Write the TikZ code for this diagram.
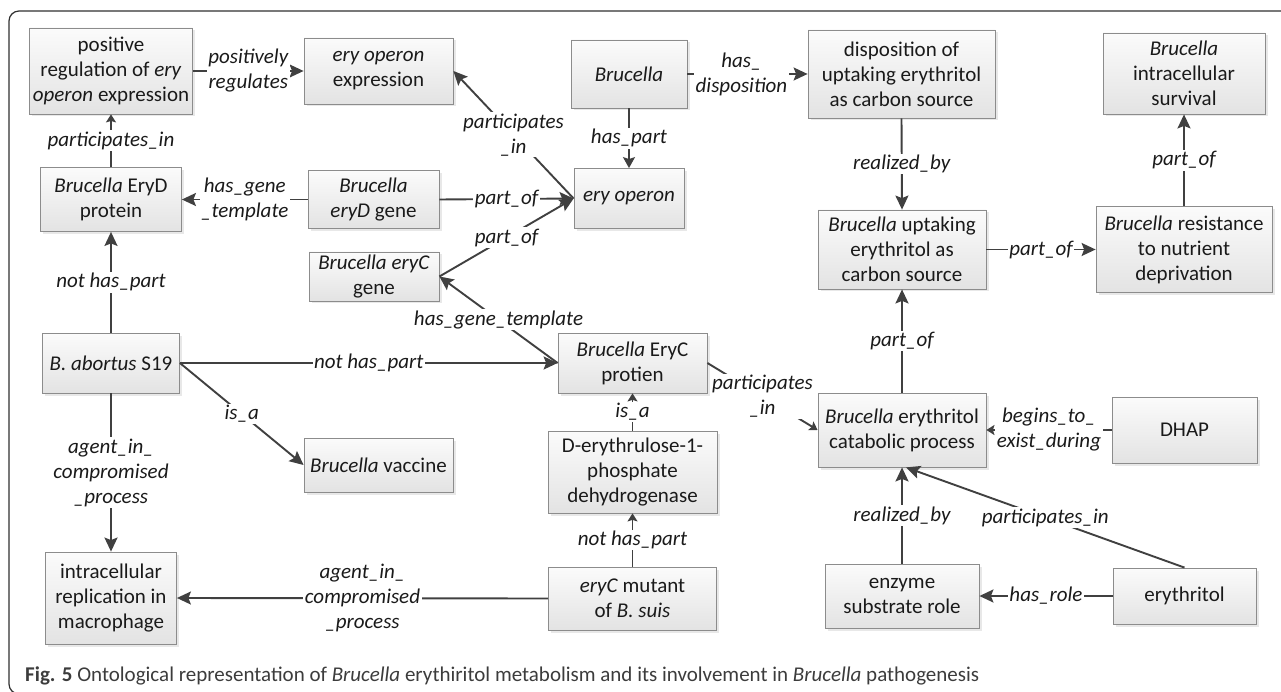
\documentclass[tikz,border=0pt]{standalone}
\usepackage{fontspec}
\setmainfont{Carlito}
\usetikzlibrary{arrows.meta,shadows}

\definecolor{linec}{HTML}{404040}
\definecolor{boxline}{HTML}{8C8C8C}
\definecolor{boxtop}{HTML}{FBFBFB}
\definecolor{boxbot}{HTML}{E3E3E3}
\definecolor{txt}{HTML}{1A1A1A}
\definecolor{capc}{HTML}{3C3C3C}
\definecolor{framec}{HTML}{303030}

\newcommand\diagfont{\fontsize{21}{25}\selectfont}
\newcommand\capfont{\fontsize{21}{25}\selectfont}

\begin{document}
\begin{tikzpicture}[x=1pt,y=-1pt,
  box/.style 2 args={draw=boxline, line width=0.8pt, top color=boxtop, bottom color=boxbot,
    drop shadow={shadow xshift=2.5pt, shadow yshift=-2.5pt, fill=black!18},
    align=center, inner sep=0pt, font=\diagfont, text=txt,
    minimum width=#1, minimum height=#2},
  lbl/.style={fill=white, inner sep=1.5pt, font=\diagfont\itshape, align=center, text=txt},
  arr/.style={draw=linec, line width=1.9pt, -{Stealth[length=14pt,width=13pt,inset=2.5pt]}},
  arrm/.style={draw=linec, line width=1.9pt, -{Stealth[length=11pt,width=12pt,inset=2pt]}},
  arrs/.style={draw=linec, line width=1.9pt, -{Stealth[length=8pt,width=10pt,inset=1.5pt]}}
]
\useasboundingbox (0,0) rectangle (1281,692);
\clip (0,0) rectangle (1281,692);

% outer frame
\draw[framec, line width=1.2pt, rounded corners=10pt] (9,11) rectangle (1300,694);

% boxes
\node[box={163pt}{86pt}] (pr) at (111,71) {positive\\regulation of \textit{ery}\\\textit{operon} expression};
\node[box={149pt}{66pt}] (eoe) at (378.5,71) {\textit{ery operon}\\expression};
\node[box={116pt}{68pt}] (bru) at (629,74) {\textit{Brucella}};
\node[box={187pt}{88pt}] (dis) at (901.5,74) {disposition of\\uptaking erythritol\\as carbon source};
\node[box={162pt}{81pt}] (surv) at (1184,73.5) {\textit{Brucella}\\intracellular\\survival};
\node[box={141pt}{64pt}] (pD) at (111,199.5) {\textit{Brucella} EryD\\protein};
\node[box={131pt}{58pt}] (gD) at (373.5,199.5) {\textit{Brucella}\\\textit{eryD} gene};
\node[box={110pt}{60pt}] (eo) at (629,198.5) {\textit{ery operon}};
\node[box={168pt}{79pt}] (upt) at (902,249.5) {\textit{Brucella} uptaking\\erythritol as\\carbon source};
\node[box={176pt}{86pt}] (res) at (1184,249.5) {\textit{Brucella} resistance\\to nutrient\\deprivation};
\node[box={130pt}{49pt}] (gC) at (374,276.5) {\textit{Brucella eryC}\\gene};
\node[box={137pt}{60pt}] (ab) at (111,363) {\textit{B. abortus} S19};
\node[box={149pt}{60pt}] (pC) at (632.5,363) {\textit{Brucella} EryC\\protien};
\node[box={168pt}{74pt}] (cat) at (902,430) {\textit{Brucella} erythritol\\catabolic process};
\node[box={145pt}{66pt}] (dhap) at (1184.5,430) {DHAP};
\node[box={149pt}{54pt}] (vac) at (378.5,465) {\textit{Brucella} vaccine};
\node[box={169pt}{82pt}] (dery) at (632.5,472) {D-erythrulose-1-\\phosphate\\dehydrogenase};
\node[box={131pt}{92pt}] (icr) at (111,598) {intracellular\\replication in\\macrophage};
\node[box={168pt}{63pt}] (mut) at (632.5,598.5) {\textit{eryC} mutant\\of \textit{B. suis}};
\node[box={154pt}{64pt}] (enz) at (902,596) {enzyme\\substrate role};
\node[box={143pt}{56pt}] (ery) at (1184.5,596) {erythritol};

% relations
\draw[arr] (pr.east) -- node[lbl]{positively\\regulates} (eoe.west);
\draw[arrs] (pD.north) -- node[lbl]{participates\_in} (pr.south);
\draw[arr] (gD.west) -- node[lbl]{has\_gene\\\_template} (pD.east);
\draw[arr] (gD.east) -- node[lbl]{part\_of} (eo.west);
\draw[arr] (gC.east) -- node[lbl]{part\_of} (eo.west);
\draw[arr] (eo.west) -- node[lbl]{participates\\\_in} (eoe.east);
\draw[arrm] (bru.south) -- node[lbl]{has\_part} (eo.north);
\draw[arr] (bru.east) -- node[lbl,pos=0.45]{has\_\\disposition} (dis.west);
\draw[arr] (dis.south) -- node[lbl]{realized\_by} (upt.north);
\draw[arr] (upt.east) -- node[lbl]{part\_of} (res.west);
\draw[arr] (res.north) -- node[lbl]{part\_of} (surv.south);
\draw[arr] (cat.north) -- node[lbl]{part\_of} (upt.south);
\draw[arrs] (dhap.west) -- node[lbl]{begins\_to\_\\exist\_during} (cat.east);
\draw[arr] (enz.north) -- node[lbl]{realized\_by} (cat.south);
\draw[arr] (ery.north) -- node[lbl]{participates\_in} ([xshift=4pt]cat.south);
\draw[arr] (ery.west) -- node[lbl]{has\_role} (enz.east);
\draw[arrs] (pC.east) -- node[lbl]{participates\\\_in} (cat.west);
\draw[arr] (pC.west) -- node[lbl]{has\_gene\_template} (gC.east);
\draw[arr] (ab.east) -- node[lbl]{not has\_part} (pC.west);
\draw[arr] (ab.north) -- node[lbl]{not has\_part} (pD.south);
\draw[arr] (ab.east) -- node[lbl]{is\_a} (vac.west);
\draw[arr] (ab.south) -- node[lbl]{agent\_in\_\\compromised\\\_process} (icr.north);
\draw[arr] (mut.west) -- node[lbl]{agent\_in\_\\compromised\\\_process} (icr.east);
\draw[arrs] (mut.north) -- node[lbl]{not has\_part} (dery.south);
\draw[arrs] (dery.north) -- node[lbl]{is\_a} (pC.south);

% caption
\node[anchor=base west, inner sep=0pt, font=\capfont, text=capc] (cap) at (25,681)
  {\textbf{Fig. 5} Ontological representation of \textit{Brucella} erythiritol metabolism and its involvement in \textit{Brucella} pathogenesis};
\end{tikzpicture}
\end{document}
